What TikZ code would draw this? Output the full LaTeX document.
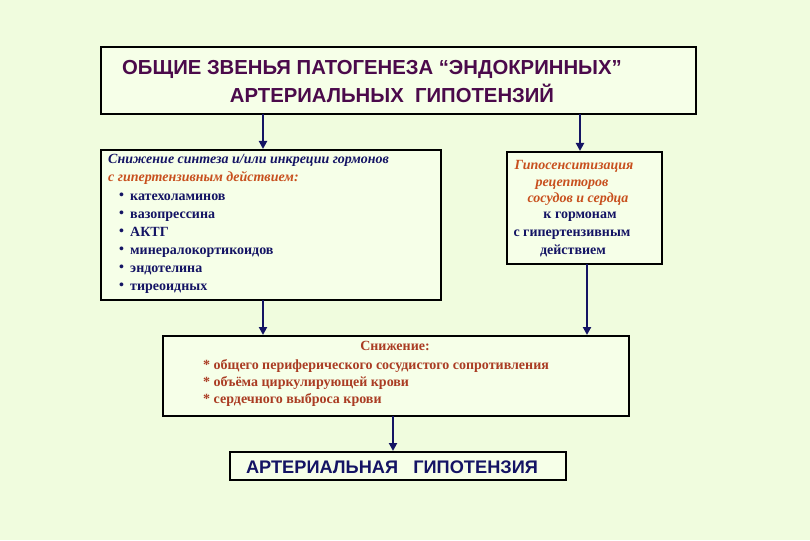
\documentclass[tikz,border=0pt]{standalone}
\usepackage{fontspec}
\setmainfont{Liberation Serif}
\newfontfamily\sansb{Liberation Sans}[BoldFont={* Bold}]
\usetikzlibrary{arrows.meta}
\definecolor{bgc}{RGB}{240,252,222}
\definecolor{boxc}{RGB}{246,255,232}
\definecolor{navy}{RGB}{20,20,100}
\definecolor{purp}{RGB}{75,10,75}
\definecolor{orng}{RGB}{200,80,30}
\definecolor{brn}{RGB}{170,60,35}
\begin{document}
\begin{tikzpicture}[x=1pt,y=-1pt,
  box/.style={draw=black,line width=1.2pt,fill=boxc},
  arr/.style={draw=navy,line width=2.6pt,-{Triangle[length=8pt,width=8pt]}},
  txt/.style={inner sep=0pt,anchor=base west},
  ctxt/.style={inner sep=0pt,anchor=base},
  ser/.style={font=\fontsize{14}{16}\selectfont\bfseries},
  seri/.style={font=\fontsize{14}{16}\selectfont\bfseries\itshape},
  ttl/.style={font=\sansb\fontsize{20.3}{24}\selectfont\bfseries,text=purp}]
\useasboundingbox (0,0) rectangle (810,540);
\fill[bgc] (0,0) rectangle (810,540);
% boxes
\path[box] (101,47) rectangle (696,114);
\path[box] (101,150) rectangle (441,300);
\path[box] (507,152) rectangle (662,264);
\path[box] (163,336) rectangle (629,416);
\path[box] (230,452) rectangle (566,480);
% anchors for arrows
\coordinate (t1) at (263,114); \coordinate (l1) at (263,149);
\coordinate (t2) at (580,114); \coordinate (r1) at (580,151);
\coordinate (l2) at (263,300); \coordinate (b1) at (263,335);
\coordinate (r2) at (587,264); \coordinate (b2) at (587,335);
\coordinate (b3) at (393,416); \coordinate (f1) at (393,451);
\draw[arr] (t1) -- (l1);
\draw[arr] (t2) -- (r1);
\draw[arr] (l2) -- (b1);
\draw[arr] (r2) -- (b2);
\draw[arr] (b3) -- (f1);
% title
\node[txt,ttl] (ttl1) at (122,75) {ОБЩИЕ ЗВЕНЬЯ ПАТОГЕНЕЗА “ЭНДОКРИННЫХ”};
\node[ctxt,ttl] (ttl2) at (392,103) {АРТЕРИАЛЬНЫХ\ \ ГИПОТЕНЗИЙ};
% left box
\node[txt,seri,text=navy] (l0) at (108,164) {Снижение синтеза и/или инкреции гормонов};
\node[txt,seri,text=orng] (l00) at (108,181) {с гипертензивным действием:};
\foreach \y/\t [count=\i] in {200/катехоламинов,218/вазопрессина,236/АКТГ,254/минералокортикоидов,272/эндотелина,290/тиреоидных}{
  \node[txt,font=\fontsize{14}{16}\selectfont\bfseries,text=navy] (bul\i) at (119,\y-1) {•};
  \node[txt,ser,text=navy] (li\i) at (130,\y) {\t};
}
% right box
\node[ctxt,seri,text=orng] (r1a) at (574,169) {Гипосенситизация};
\node[ctxt,seri,text=orng] (r1b) at (572,186) {рецепторов};
\node[ctxt,seri,text=orng] (r1c) at (578,202) {сосудов и сердца};
\node[ctxt,ser,text=navy] (r1d) at (580,218) {к гормонам};
\node[ctxt,ser,text=navy] (r1e) at (572,236) {с гипертензивным};
\node[ctxt,ser,text=navy] (r1f) at (573,254) {действием};
% bottom box
\node[ctxt,ser,text=brn] (s0) at (395,350) {Снижение:};
\node[txt,ser,text=brn] (s1) at (203,369) {* общего периферического сосудистого сопротивления};
\node[txt,ser,text=brn] (s2) at (203,386) {* объёма циркулирующей крови};
\node[txt,ser,text=brn] (s3) at (203,403) {* сердечного выброса крови};
% final
\node[ctxt,font=\sansb\fontsize{18.2}{21}\selectfont\bfseries,text=navy] (fin) at (392,473) {АРТЕРИАЛЬНАЯ\ \ \ ГИПОТЕНЗИЯ};
\end{tikzpicture}
\end{document}
